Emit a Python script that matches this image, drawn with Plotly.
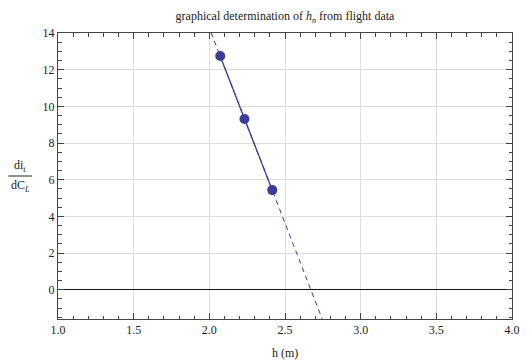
import numpy as np
import plotly.graph_objects as go

# data
h_vals = [2.072, 2.232, 2.416]          # h (m)
dit_dcl = [12.75, 9.31, 5.43]           # di_t / dC_L
x_ticks = [1.0, 1.5, 2.0, 2.5, 3.0, 3.5, 4.0]
y_ticks = [0, 2, 4, 6, 8, 10, 12, 14]
x_range = [1.0, 4.0]
y_range = [-1.6, 14.0]

col = "#3d3d99"
font = "'Liberation Serif', 'Times New Roman', Times, serif"

slope, icpt = np.polyfit(h_vals, dit_dcl, 1)
xd = np.array(x_range)
xs = np.array([min(h_vals), max(h_vals)])

fig = go.Figure()
fig.add_trace(go.Scatter(x=xd, y=slope * xd + icpt, mode="lines",
                         line=dict(color=col, width=1, dash="5px,4px"),
                         hoverinfo="skip", showlegend=False))
fig.add_trace(go.Scatter(x=xs, y=slope * xs + icpt, mode="lines",
                         line=dict(color=col, width=1.3),
                         hoverinfo="skip", showlegend=False))
fig.add_trace(go.Scatter(x=h_vals, y=dit_dcl, mode="markers",
                         marker=dict(color=col, size=10),
                         showlegend=False))

axis_common = dict(
    showline=True, linecolor="#444", linewidth=1, mirror="ticks",
    ticks="inside", ticklen=6, tickcolor="#444", tickwidth=1,
    showgrid=True, gridcolor="#dedede", gridwidth=1,
    tickfont=dict(family=font, size=12, color="#222"),
)

fig.update_xaxes(range=x_range, tickvals=x_ticks, tickformat=".1f",
                 zeroline=False,
                 minor=dict(dtick=0.1, ticks="inside", ticklen=3.5,
                            tickcolor="#444", showgrid=False),
                 **axis_common)
fig.update_yaxes(range=y_range, tickvals=y_ticks,
                 zeroline=True, zerolinecolor="#111", zerolinewidth=1.2,
                 minor=dict(dtick=0.5, ticks="inside", ticklen=3.5,
                            tickcolor="#444", showgrid=False),
                 **axis_common)

fig.update_layout(
    width=532, height=360,
    margin=dict(l=58, r=18, t=33, b=41),
    plot_bgcolor="white", paper_bgcolor="white",
    font=dict(family=font, size=12, color="#222"),
    title=dict(text="graphical determination of <i>h<sub>n</sub></i> from flight data",
               x=0.5, xanchor="center", xref="paper",
               y=1 - 16 / 360, yanchor="middle", yref="container",
               font=dict(family=font, size=12, color="#222")),
    annotations=[
        dict(text="h (m)", xref="paper", yref="paper", x=0.5, y=-34 / 286,
             showarrow=False, yanchor="middle",
             font=dict(family=font, size=12, color="#222")),
        dict(text="di<sub><i>t</i></sub>", xref="paper", yref="paper",
             x=-38 / 456.5, y=(319 - 166) / 286, showarrow=False,
             xanchor="center", yanchor="middle",
             font=dict(family=font, size=12, color="#222")),
        dict(text="dC<sub><i>L</i></sub>", xref="paper", yref="paper",
             x=-38 / 456.5, y=(319 - 186) / 286, showarrow=False,
             xanchor="center", yanchor="middle",
             font=dict(family=font, size=12, color="#222")),
    ],
    shapes=[dict(type="line", xref="paper", yref="paper",
                 x0=-50 / 456.5, x1=-26 / 456.5,
                 y0=(319 - 176) / 286, y1=(319 - 176) / 286,
                 line=dict(color="#222", width=1))],
)

fig.write_html("out.html")
